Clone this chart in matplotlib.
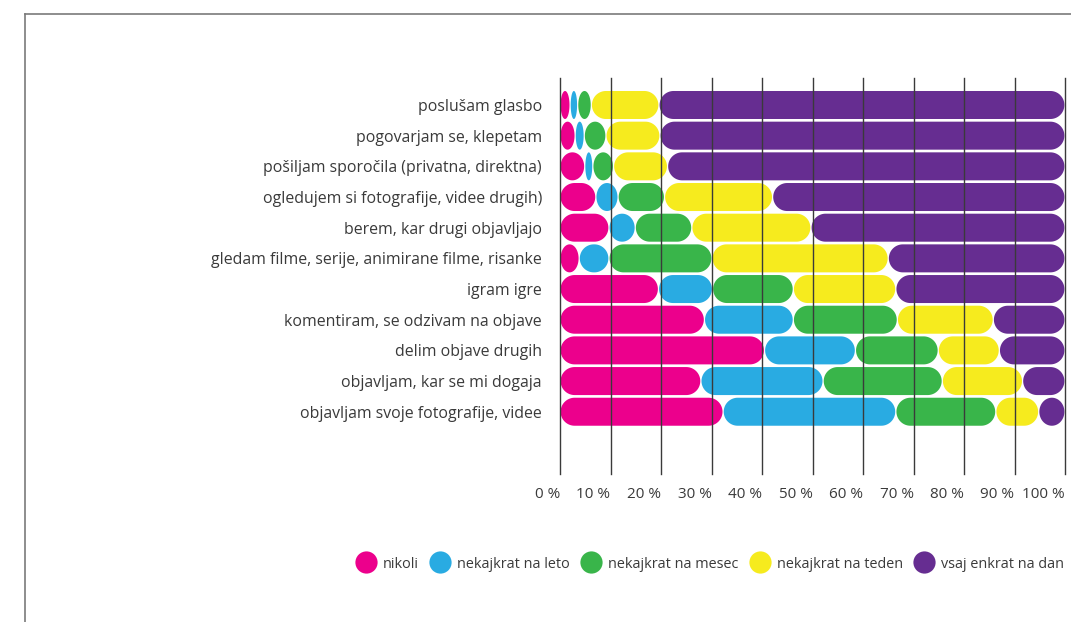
import numpy as np
import matplotlib
matplotlib.use("Agg")
import matplotlib.pyplot as plt
from matplotlib.patches import Polygon
from matplotlib.lines import Line2D

plt.rcParams["font.family"] = ["Open Sans", "DejaVu Sans"]

# data, top row first (share of respondents in %)
labels = [
    "poslušam glasbo",
    "pogovarjam se, klepetam",
    "pošiljam sporočila (privatna, direktna)",
    "ogledujem si fotografije, videe drugih)",
    "berem, kar drugi objavljajo",
    "gledam filme, serije, animirane filme, risanke",
    "igram igre",
    "komentiram, se odzivam na objave",
    "delim objave drugih",
    "objavljam, kar se mi dogaja",
    "objavljam svoje fotografije, videe",
]
nikoli = [2.0, 3.0, 4.9, 7.1, 9.7, 3.8, 19.5, 28.6, 40.5, 27.9, 32.3]
na_leto = [1.5, 1.8, 1.6, 4.4, 5.2, 5.9, 10.7, 17.6, 18.0, 24.2, 34.2]
na_mesec = [2.7, 4.3, 4.1, 9.2, 11.2, 20.4, 16.0, 20.6, 16.4, 23.6, 19.8]
na_teden = [13.4, 10.7, 10.7, 21.4, 23.6, 34.9, 20.3, 19.0, 12.1, 15.9, 8.5]
na_dan = [80.4, 80.2, 78.7, 57.9, 50.3, 35.0, 33.5, 14.2, 13.0, 8.4, 5.2]

series_names = ["nikoli", "nekajkrat na leto", "nekajkrat na mesec",
                "nekajkrat na teden", "vsaj enkrat na dan"]
series = [nikoli, na_leto, na_mesec, na_teden, na_dan]
colors = ["#EC008C", "#29ABE2", "#39B54A", "#F6EB1E", "#662D91"]
ticks = list(range(0, 101, 10))

W, H = 1071, 622
fig = plt.figure(figsize=(W / 100, H / 100), dpi=100)
ax = fig.add_axes([560 / W, 1 - 474 / H, 505 / W, (474 - 78) / H])
ax.set_xlim(0, 100)
ax.set_ylim(12.03, -0.88)

bar_h = 0.913
# how many x units make one pixel, so the rounded ends stay circular
px_per_x = ax.get_position().width * W / 100
rx_max = (bar_h / 2) * (ax.get_position().height * H / 12.91) / px_per_x


def pill(x0, x1, yc, h):
    rx = min(rx_max, (x1 - x0) / 2)
    a = np.linspace(-np.pi / 2, np.pi / 2, 40)
    right = np.column_stack([x1 - rx + rx * np.cos(a), yc + h / 2 * np.sin(a)])
    b = np.linspace(np.pi / 2, 3 * np.pi / 2, 40)
    left = np.column_stack([x0 + rx + rx * np.cos(b), yc + h / 2 * np.sin(b)])
    return np.vstack([right, left])


gap = 0.12
for i in range(len(labels)):
    left = 0.0
    for vals, c in zip(series, colors):
        v = vals[i]
        verts = pill(left + gap, left + v - gap, i, bar_h)
        ax.add_patch(Polygon(verts, closed=True, facecolor=c, edgecolor="none", zorder=2))
        left += v

for v in ticks:
    ax.axvline(v, color="#3a3a3a", lw=1, zorder=3, clip_on=False)

for s in ax.spines.values():
    s.set_visible(False)
ax.set_xticks(ticks)
ax.set_xticklabels([f"{v} %" for v in ticks], ha="right")
ax.set_yticks(range(len(labels)))
ax.set_yticklabels(labels)
ax.tick_params(axis="x", length=0, pad=9, labelsize=11, labelcolor="#3a3a3a")
ax.tick_params(axis="y", length=0, pad=13, labelsize=11.4, labelcolor="#3a3a3a")

handles = [Line2D([], [], marker="o", linestyle="", markersize=16,
                  markerfacecolor=c, markeredgecolor="none") for c in colors]
fig.legend(handles, series_names, ncol=5, loc="center",
           bbox_to_anchor=(710 / W, 1 - 564 / H), frameon=False,
           fontsize=10.4, handletextpad=0.45, columnspacing=0.75,
           handlelength=1.45, labelcolor="#3a3a3a")

# frame of the original page
fig.add_artist(Line2D([25 / W, 1], [1 - 14 / H, 1 - 14 / H], color="#7a7a7a", lw=1.2))
fig.add_artist(Line2D([25 / W, 25 / W], [0, 1 - 14 / H], color="#7a7a7a", lw=1.2))

fig.savefig("out.png", dpi=100)
